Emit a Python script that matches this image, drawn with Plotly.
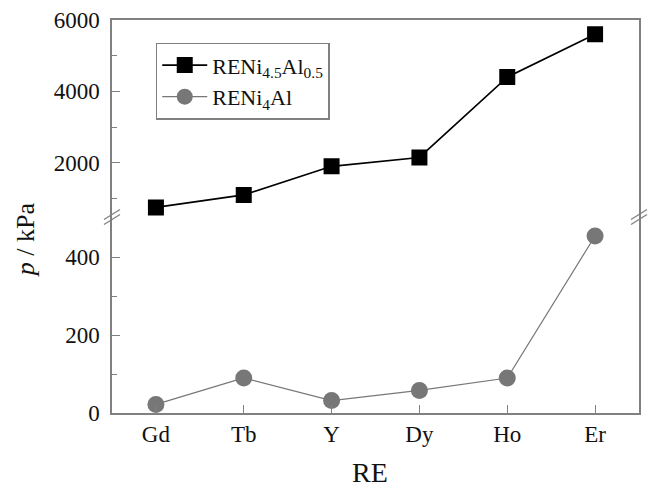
import plotly.graph_objects as go

categories = ["Gd", "Tb", "Y", "Dy", "Ho", "Er"]
reni45 = [750, 1100, 1900, 2150, 4400, 5600]
reni4 = [22, 90, 32, 58, 90, 455]
name45 = "RENi<sub>4.5</sub>Al<sub>0.5</sub>"
name4 = "RENi<sub>4</sub>Al"
x_title = "RE"
y_title = "<i>p</i> / kPa"

FONT = "Liberation Serif, Times New Roman, serif"
AX = "#808080"
TXT = "#111111"

fig = go.Figure()
fig.add_trace(go.Scatter(
    x=categories, y=reni45, name=name45, xaxis="x2", yaxis="y2",
    mode="lines+markers",
    line=dict(color="#000000", width=1.6),
    marker=dict(symbol="square", size=16, color="#000000"),
))
fig.add_trace(go.Scatter(
    x=categories, y=reni4, name=name4, xaxis="x", yaxis="y",
    mode="lines+markers",
    line=dict(color="#777777", width=1.2),
    marker=dict(symbol="circle", size=17, color="#777777"),
))

fig.update_layout(
    width=653, height=489,
    margin=dict(l=112, r=14, t=20, b=76),
    paper_bgcolor="white", plot_bgcolor="white",
    font=dict(family=FONT, size=23, color=TXT),
    showlegend=True,
    legend=dict(
        x=0.083, y=0.942, xanchor="left", yanchor="top",
        bordercolor=AX, borderwidth=1.5, bgcolor="white",
        font=dict(family=FONT, size=22, color=TXT),
        itemwidth=45, tracegroupgap=0,
    ),
    xaxis=dict(
        domain=[0, 1], anchor="y", type="category", automargin=False,
        categoryorder="array", categoryarray=categories,
        range=[-0.5, 5.5],
        showline=True, linecolor=AX, linewidth=1.5,
        ticks="inside", ticklen=8, tickcolor=AX, tickwidth=1,
        showgrid=False, zeroline=False,
        tickfont=dict(family=FONT, size=23, color=TXT),
    ),
    xaxis2=dict(
        domain=[0, 1], anchor="y2", matches="x", type="category", automargin=False,
        side="top", showline=True, linecolor=AX, linewidth=1.5,
        showticklabels=False, ticks="", showgrid=False, zeroline=False,
    ),
    yaxis=dict(
        domain=[0, 0.5], anchor="x", range=[0, 505], automargin=False,
        tickvals=[0, 200, 400],
        showline=True, mirror=True, linecolor=AX, linewidth=1.5,
        ticks="inside", ticklen=8, tickcolor=AX, tickwidth=1,
        minor=dict(tickvals=[100, 300], ticks="inside", ticklen=5, tickcolor=AX, tickwidth=1),
        showgrid=False, zeroline=False,
        tickfont=dict(family=FONT, size=23, color=TXT),
        ticklabelstandoff=6,
    ),
    yaxis2=dict(
        domain=[0.5, 1], anchor="x", range=[495, 6000], automargin=False,
        tickvals=[2000, 4000, 6000],
        showline=True, mirror=True, linecolor=AX, linewidth=1.5,
        ticks="inside", ticklen=8, tickcolor=AX, tickwidth=1,
        minor=dict(tickvals=[1000, 3000, 5000], ticks="inside", ticklen=5, tickcolor=AX, tickwidth=1),
        showgrid=False, zeroline=False,
        tickfont=dict(family=FONT, size=23, color=TXT),
        ticklabelstandoff=6,
    ),
)

fig.add_annotation(
    text=x_title, xref="paper", yref="paper", x=0.49, y=-0.108,
    showarrow=False, xanchor="center", yanchor="top",
    font=dict(family=FONT, size=28, color=TXT),
)
fig.add_annotation(
    text=y_title, xref="paper", yref="paper", x=-0.165, y=0.44,
    showarrow=False, textangle=-90, xanchor="center", yanchor="middle",
    font=dict(family=FONT, size=26, color=TXT),
)

# axis break marks
def px2paper(px, py):
    return (px - 112) / 527.0, (413 - py) / 393.0

for xc in (112, 639):
    for dy in (-2.5, 2.5):
        x0, y0 = px2paper(xc - 8, 222 + dy)
        x1, y1 = px2paper(xc + 8, 212 + dy)
        fig.add_shape(type="line", xref="paper", yref="paper",
                      x0=x0, y0=y0, x1=x1, y1=y1,
                      line=dict(color=AX, width=1.3))

fig.write_html("out.html")
